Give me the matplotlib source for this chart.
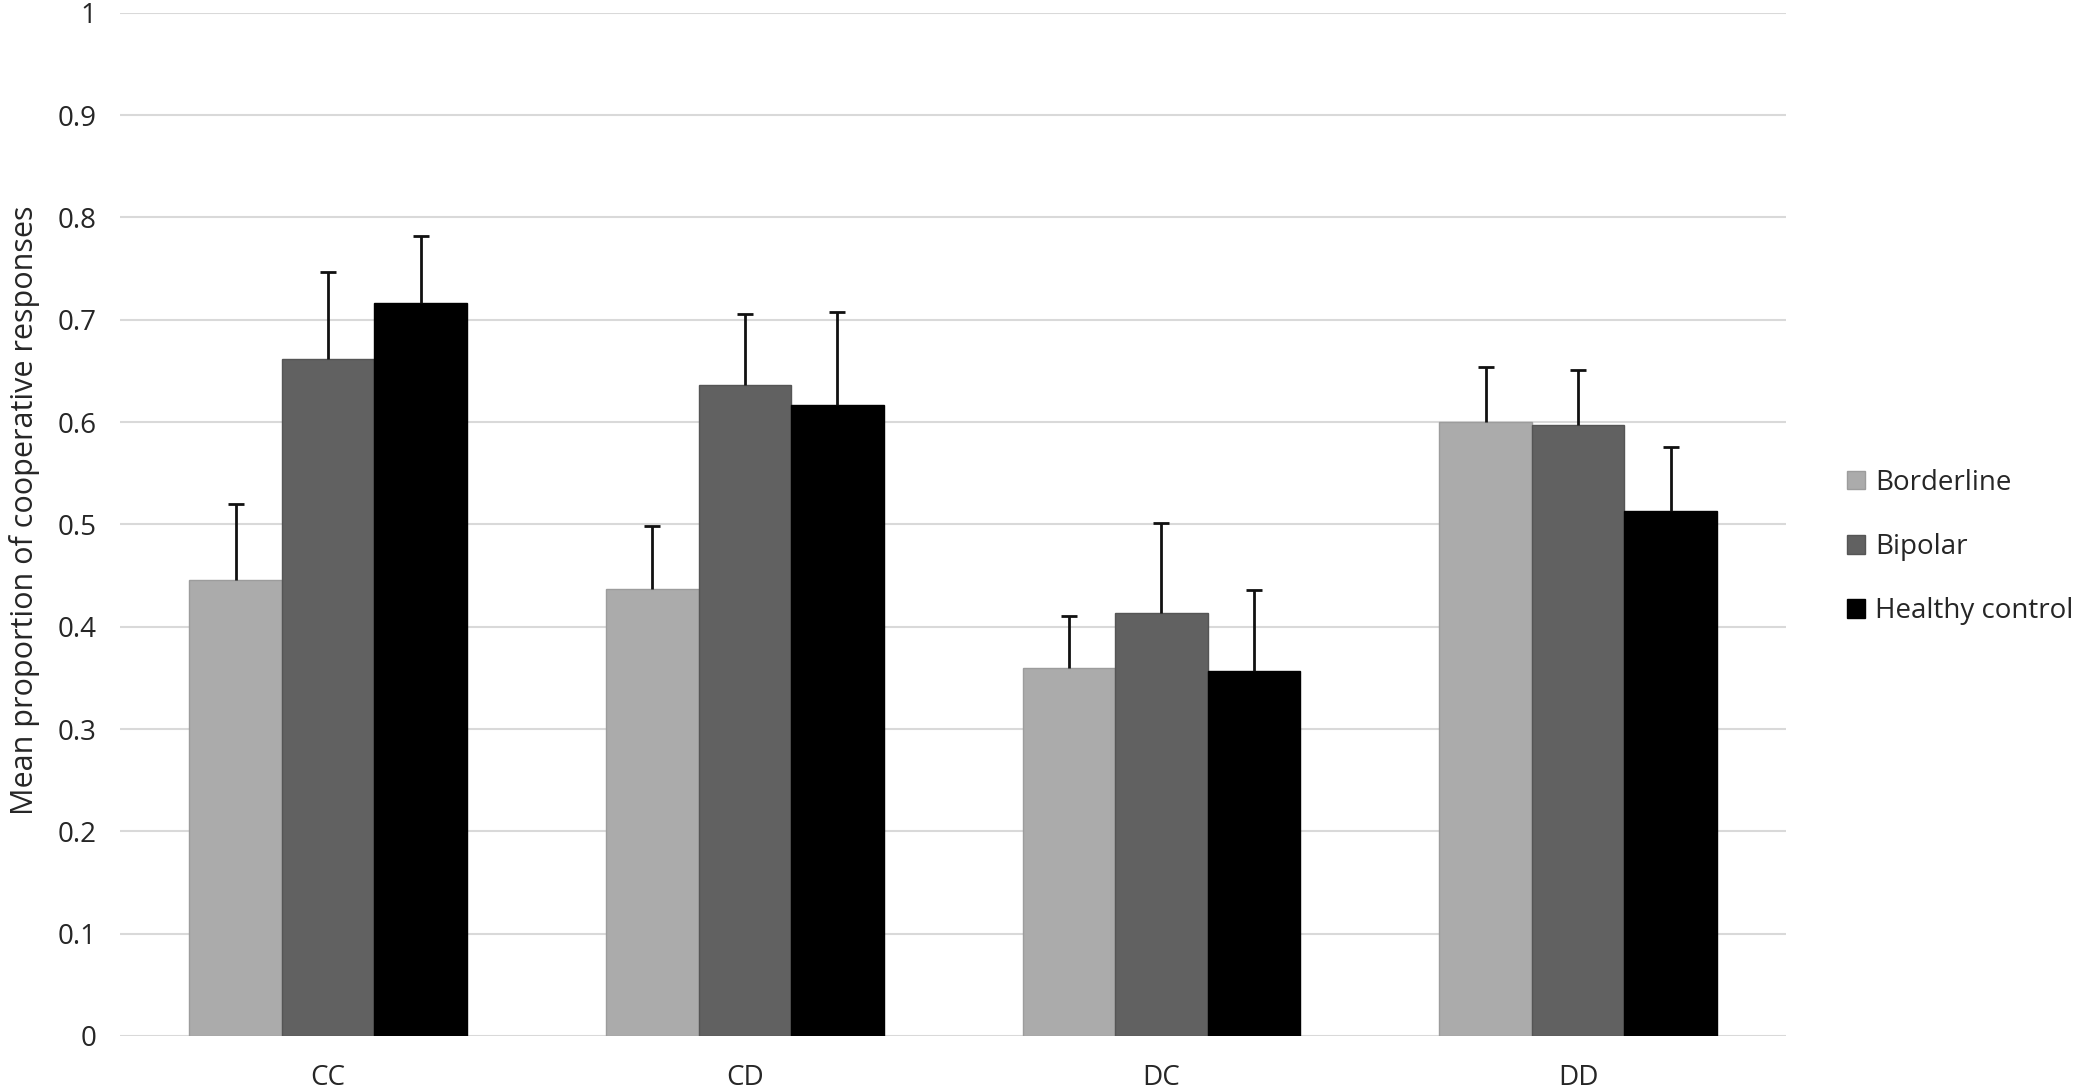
import matplotlib
matplotlib.use("Agg")
import matplotlib.pyplot as plt
import numpy as np

# valeurs
categories = ["CC", "CD", "DC", "DD"]
groupes = ["Borderline", "Bipolar", "Healthy control"]

borderline = [0.446, 0.437, 0.360, 0.600]
bipolar = [0.662, 0.636, 0.413, 0.597]
healthy = [0.716, 0.617, 0.357, 0.513]

# erreurs (barre supérieure seulement)
err_borderline = [0.074, 0.061, 0.050, 0.054]
err_bipolar = [0.085, 0.070, 0.088, 0.054]
err_healthy = [0.066, 0.091, 0.079, 0.063]

couleurs = ["#ABABAB", "#616161", "#000000"]
bords = ["#9C9C9C", "#555555", "#000000"]

plt.rcParams['font.family'] = ['Open Sans', 'DejaVu Sans']
plt.rcParams['xtick.major.size'] = 0
plt.rcParams['ytick.major.size'] = 0
plt.rcParams['xtick.major.pad'] = 20
plt.rcParams['ytick.major.pad'] = 17
plt.rcParams['xtick.labelsize'] = 20
plt.rcParams['ytick.labelsize'] = 20
plt.rcParams['xtick.color'] = '#262626'
plt.rcParams['ytick.color'] = '#262626'

fig = plt.figure(figsize=(20.78, 10.92), dpi=100)
ax = fig.add_axes([0.0577, 0.0513, 0.802, 0.937])

x = np.arange(len(categories))
largeur = 0.222
series = [borderline, bipolar, healthy]
erreurs = [err_borderline, err_bipolar, err_healthy]

for i, (vals, errs) in enumerate(zip(series, erreurs)):
    pos = x + (i - 1) * largeur
    ax.bar(pos, vals, width=largeur, color=couleurs[i], edgecolor=bords[i],
           linewidth=1, label=groupes[i], zorder=2)
    eb = ax.errorbar(pos, vals, yerr=[np.zeros(len(vals)), errs], fmt='none',
                     ecolor='#111111', elinewidth=2, capsize=6, capthick=2, zorder=3)
    # on cache le chapeau du bas
    eb[1][0].set_visible(False)

ax.set_xlim(-0.5, 3.5)
ax.set_ylim(0, 1)
ax.set_yticks(np.arange(0, 1.01, 0.1))
ax.set_yticklabels(["0", "0.1", "0.2", "0.3", "0.4", "0.5", "0.6", "0.7", "0.8", "0.9", "1"], fontsize=20)
ax.set_xticks(x)
ax.set_xticklabels(categories, fontsize=20)

ax.yaxis.grid(True, color='#D9D9D9', linewidth=1.5, zorder=0)
ax.set_axisbelow(True)
for s in ax.spines.values():
    s.set_visible(False)

ax.set_ylabel("Mean proportion of cooperative responses", fontsize=22, color='#262626')
ax.yaxis.set_label_coords(-0.048, 0.514)

fig.legend(loc='center left', bbox_to_anchor=(0.877, 0.499), frameon=False,
           fontsize=20, handlelength=0.65, handleheight=0.65, handletextpad=0.35,
           labelspacing=1.3, labelcolor='#262626')

fig.savefig("out.png", dpi=100)
